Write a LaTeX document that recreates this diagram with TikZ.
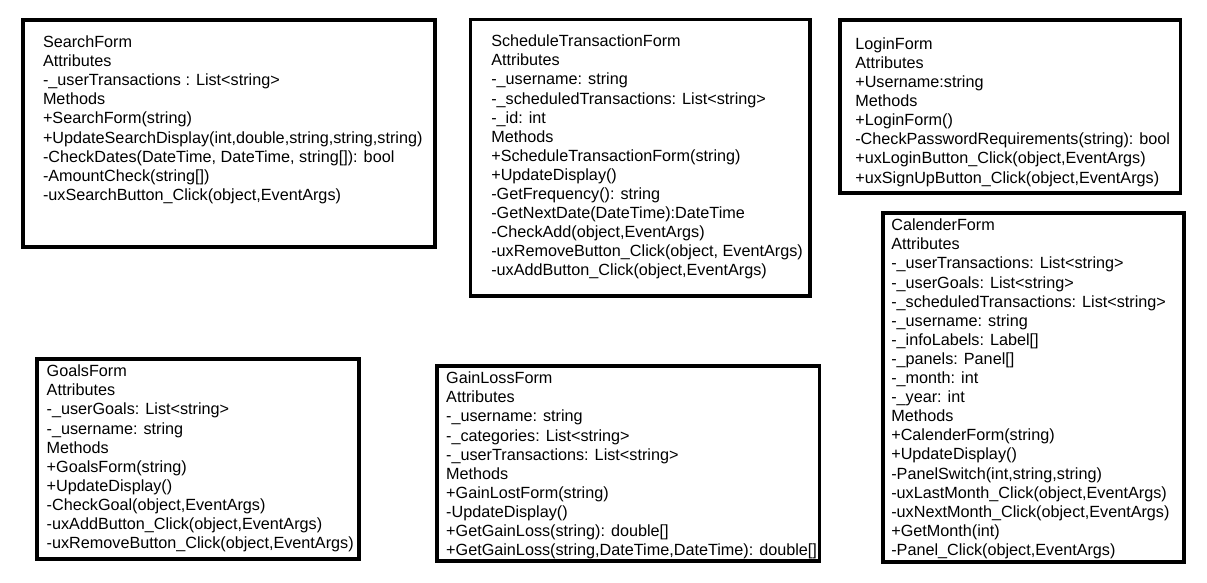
\documentclass[tikz,border=0pt]{standalone}
\usepackage{fontspec}
\setmainfont{Liberation Sans}
\tikzset{
  classbox/.style={draw=black, line width=3.8pt, fill=white, inner sep=0pt, rectangle},
  classtext/.style={anchor=base west, inner sep=0pt, outer sep=0pt, font=\fontsize{16.2}{19.1}\selectfont, text=black}
}
\newcommand{\boxat}[5]{% name, x1, y1, x2, y2
  \node[classbox, minimum width={(#4-#2)*1pt}, minimum height={(#5-#3)*1pt}] (#1) at ({(#2+#4)/2},{(#3+#5)/2}) {};}
\begin{document}
\begin{tikzpicture}[x=1pt,y=-1pt]
\useasboundingbox (0,0) rectangle (1207,582);
\fill[white] (0,0) rectangle (1207,582);
\def\arraystretch{1}
% boxes
\boxat{search}{23}{20}{435}{247}
\boxat{schedule}{470.5}{19.5}{810}{296}
\boxat{login}{840}{20}{1180.5}{193}
\boxat{calender}{883}{213}{1184}{562}
\boxat{goals}{37}{359}{359}{559}
\boxat{gainloss}{437}{366}{819.5}{561}
% texts
\node[classtext] (searchtext) at (43,47.5) {\fontsize{16.2}{19.1}\selectfont\begin{tabular}[t]{@{}l@{}}
SearchForm\\
Attributes\\
-\_userTransactions : List<string>\\
Methods\\
+SearchForm(string)\\
+UpdateSearchDisplay(int,double,string,string,string)\\
-CheckDates(DateTime, DateTime, string[]): bool\\
-AmountCheck(string[])\\
-uxSearchButton\_Click(object,EventArgs)
\end{tabular}};
\node[classtext] (scheduletext) at (491.3,46.7) {\fontsize{16.2}{19.1}\selectfont\begin{tabular}[t]{@{}l@{}}
ScheduleTransactionForm\\
Attributes\\
-\_username: string\\
-\_scheduledTransactions: List<string>\\
-\_id: int\\
Methods\\
+ScheduleTransactionForm(string)\\
+UpdateDisplay()\\
-GetFrequency(): string\\
-GetNextDate(DateTime):DateTime\\
-CheckAdd(object,EventArgs)\\
-uxRemoveButton\_Click(object, EventArgs)\\
-uxAddButton\_Click(object,EventArgs)
\end{tabular}};
\node[classtext] (logintext) at (855.3,49.3) {\fontsize{16.2}{19.1}\selectfont\begin{tabular}[t]{@{}l@{}}
LoginForm\\
Attributes\\
+Username:string\\
Methods\\
+LoginForm()\\
-CheckPasswordRequirements(string): bool\\
+uxLoginButton\_Click(object,EventArgs)\\
+uxSignUpButton\_Click(object,EventArgs)
\end{tabular}};
\node[classtext] (calendertext) at (891.3,230.7) {\fontsize{16.2}{19.1}\selectfont\begin{tabular}[t]{@{}l@{}}
CalenderForm\\
Attributes\\
-\_userTransactions: List<string>\\
-\_userGoals: List<string>\\
-\_scheduledTransactions: List<string>\\
-\_username: string\\
-\_infoLabels: Label[]\\
-\_panels: Panel[]\\
-\_month: int\\
-\_year: int\\
Methods\\
+CalenderForm(string)\\
+UpdateDisplay()\\
-PanelSwitch(int,string,string)\\
-uxLastMonth\_Click(object,EventArgs)\\
-uxNextMonth\_Click(object,EventArgs)\\
+GetMonth(int)\\
-Panel\_Click(object,EventArgs)
\end{tabular}};
\node[classtext] (goalstext) at (46.7,376.7) {\fontsize{16.2}{19.1}\selectfont\begin{tabular}[t]{@{}l@{}}
GoalsForm\\
Attributes\\
-\_userGoals: List<string>\\
-\_username: string\\
Methods\\
+GoalsForm(string)\\
+UpdateDisplay()\\
-CheckGoal(object,EventArgs)\\
-uxAddButton\_Click(object,EventArgs)\\
-uxRemoveButton\_Click(object,EventArgs)
\end{tabular}};
\node[classtext] (gainlosstext) at (446.2,383.7) {\fontsize{16.2}{19.1}\selectfont\begin{tabular}[t]{@{}l@{}}
GainLossForm\\
Attributes\\
-\_username: string\\
-\_categories: List<string>\\
-\_userTransactions: List<string>\\
Methods\\
+GainLostForm(string)\\
-UpdateDisplay()\\
+GetGainLoss(string): double[]\\
+GetGainLoss(string,DateTime,DateTime): double[]
\end{tabular}};
\end{tikzpicture}
\end{document}
